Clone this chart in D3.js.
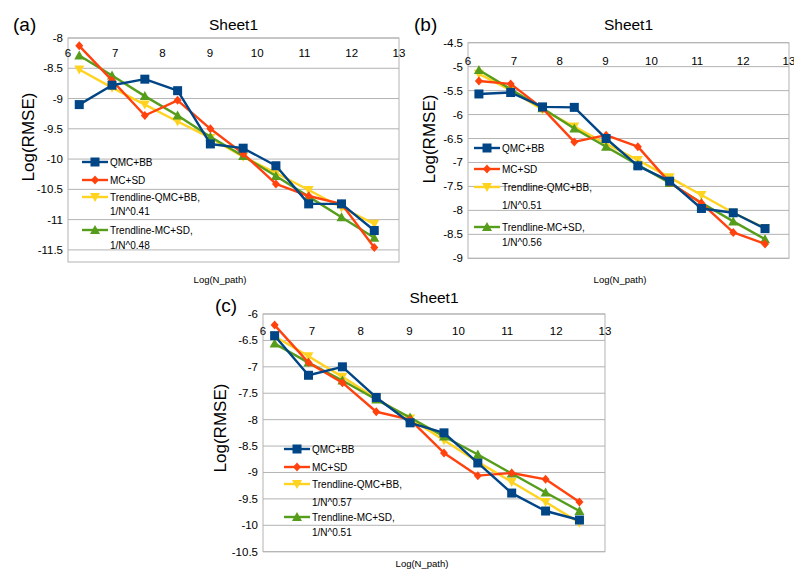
<!DOCTYPE html>
<html>
<head>
<meta charset="utf-8">
<script src="https://cdn.jsdelivr.net/npm/d3@7"></script>
<style>
  body { margin: 0; background: #fff; }
  svg { font-family: "Liberation Sans", Arial, sans-serif; }
</style>
</head>
<body>
<div id="chart"></div>
<script>
// x = ln(N_path), N_path = 512 ... 262144
const xLogN = [6.238, 6.931, 7.625, 8.318, 9.011, 9.704, 10.397, 11.090, 11.784, 12.477];
const xTicks = [6, 7, 8, 9, 10, 11, 12, 13];
const seriesNames = ["QMC+BB", "MC+SD", "Trendline-QMC+BB,", "Trendline-MC+SD,"];

// panel (a)
const aQMC = [-9.10, -8.78, -8.68, -8.87, -9.75, -9.82, -10.11, -10.74, -10.74, -11.18];
const aMC = [-8.13, -8.70, -9.28, -9.03, -9.50, -9.91, -10.41, -10.61, -10.74, -11.46];
const aTrendQMC = [-8.52, -8.82, -9.10, -9.38, -9.65, -9.96, -10.23, -10.51, -10.80, -11.07];
const aTrendMC = [-8.29, -8.62, -8.96, -9.28, -9.63, -9.95, -10.28, -10.62, -10.96, -11.30];
const aExp = ["1/N^0.41", "1/N^0.48"];
const aYTicks = [-8, -8.5, -9, -9.5, -10, -10.5, -11, -11.5];

// panel (b)
const bQMC = [-5.57, -5.54, -5.84, -5.85, -6.50, -7.07, -7.39, -7.96, -8.05, -8.38];
const bMC = [-5.30, -5.36, -5.87, -6.57, -6.43, -6.67, -7.42, -7.85, -8.46, -8.70];
const bTrendQMC = [-5.15, -5.49, -5.90, -6.25, -6.61, -6.95, -7.31, -7.68, -8.05, -8.37];
const bTrendMC = [-5.07, -5.47, -5.87, -6.29, -6.67, -7.05, -7.43, -7.84, -8.23, -8.60];
const bExp = ["1/N^0.51", "1/N^0.56"];
const bYTicks = [-4.5, -5, -5.5, -6, -6.5, -7, -7.5, -8, -8.5, -9];

// panel (c)
const cQMC = [-6.41, -7.16, -7.00, -7.58, -8.06, -8.25, -8.82, -9.39, -9.73, -9.90];
const cMC = [-6.21, -6.92, -7.30, -7.85, -8.00, -8.63, -9.06, -9.01, -9.13, -9.56];
const cTrendQMC = [-6.42, -6.80, -7.19, -7.60, -7.98, -8.39, -8.80, -9.18, -9.56, -9.95];
const cTrendMC = [-6.56, -6.92, -7.26, -7.62, -7.96, -8.32, -8.66, -9.02, -9.38, -9.73];
const cExp = ["1/N^0.57", "1/N^0.51"];
const cYTicks = [-6, -6.5, -7, -7.5, -8, -8.5, -9, -9.5, -10, -10.5];

const COLORS = ["#004586", "#ff420e", "#ffd320", "#579d1c"];
const GRID = "#b3b3b3";

const svg = d3.select("#chart").append("svg")
  .attr("width", 794)
  .attr("height", 570);

function marker(g, type, x, y, color) {
  if (type === 0) {
    g.append("rect").attr("x", x - 4.5).attr("y", y - 4.5)
      .attr("width", 9).attr("height", 9).attr("fill", color);
  } else if (type === 1) {
    g.append("path").attr("d", `M${x},${y - 4.5}L${x + 4},${y}L${x},${y + 4.5}L${x - 4},${y}Z`)
      .attr("fill", color);
  } else if (type === 2) {
    g.append("path").attr("d", `M${x - 5},${y - 4}L${x + 5},${y - 4}L${x},${y + 5}Z`)
      .attr("fill", color);
  } else {
    g.append("path").attr("d", `M${x - 5},${y + 4}L${x + 5},${y + 4}L${x},${y - 5}Z`)
      .attr("fill", color);
  }
}

function drawPanel(p) {
  const g = svg.append("g");
  const x = d3.scaleLinear().domain([6, 13]).range([p.left, p.right]);
  const y = d3.scaleLinear().domain(p.yDomain).range([p.top, p.bottom]);

  // grid
  g.selectAll("line.grid")
    .data(p.yTicks)
    .enter().append("line")
    .attr("x1", p.left).attr("x2", p.right)
    .attr("y1", d => y(d)).attr("y2", d => y(d))
    .attr("stroke", GRID).attr("stroke-width", 1);

  g.append("rect")
    .attr("x", p.left).attr("y", p.top)
    .attr("width", p.right - p.left).attr("height", p.bottom - p.top)
    .attr("fill", "none").attr("stroke", GRID);

  // y tick labels
  g.selectAll("text.ytick")
    .data(p.yTicks)
    .enter().append("text")
    .attr("x", p.left - 5)
    .attr("y", d => y(d) + 4)
    .attr("text-anchor", "end")
    .attr("font-size", "11.5px")
    .text(d => d);

  // x tick labels (axis crosses at top)
  g.selectAll("text.xtick")
    .data(xTicks)
    .enter().append("text")
    .attr("x", d => x(d))
    .attr("y", p.top + p.xLabelOff)
    .attr("text-anchor", "middle")
    .attr("font-size", "11.5px")
    .text(d => d);

  // titles
  g.append("text")
    .attr("x", (p.left + p.right) / 2).attr("y", p.titleY)
    .attr("text-anchor", "middle").attr("font-size", "15.5px")
    .text("Sheet1");
  g.append("text")
    .attr("x", p.tagX).attr("y", p.tagY)
    .attr("font-size", "19px")
    .text(p.tag);
  g.append("text")
    .attr("transform", `translate(${p.yLabelX},${p.yLabelY}) rotate(-90)`)
    .attr("text-anchor", "middle").attr("font-size", "17px")
    .text("Log(RMSE)");
  g.append("text")
    .attr("x", p.xLabelX).attr("y", p.xLabelY)
    .attr("text-anchor", "middle").attr("font-size", "9.5px")
    .text("Log(N_path)");

  // series: draw trendlines first, then data
  const line = d3.line().x((d, i) => x(xLogN[i])).y(d => y(d));
  const order = [2, 3, 1, 0];
  order.forEach(k => {
    const vals = p.series[k];
    g.append("path")
      .attr("d", line(vals))
      .attr("fill", "none")
      .attr("stroke", COLORS[k])
      .attr("stroke-width", 2.4)
      .attr("stroke-linejoin", "round");
    vals.forEach((v, i) => marker(g, k, x(xLogN[i]), y(v), COLORS[k]));
  });

  // legend
  const rows = [
    { k: 0, text: seriesNames[0] },
    { k: 1, text: seriesNames[1] },
    { k: 2, text: seriesNames[2] },
    { k: -1, text: p.exps[0] },
    { k: 3, text: seriesNames[3] },
    { k: -1, text: p.exps[1] }
  ];
  rows.forEach((r, i) => {
    const ry = p.legendRows[i];
    if (r.k >= 0) {
      g.append("line")
        .attr("x1", p.legendX).attr("x2", p.legendX + 26)
        .attr("y1", ry).attr("y2", ry)
        .attr("stroke", COLORS[r.k]).attr("stroke-width", 2.4);
      marker(g, r.k, p.legendX + 13, ry, COLORS[r.k]);
    }
    g.append("text")
      .attr("x", p.legendX + 28).attr("y", ry + 3.6)
      .attr("font-size", "10px")
      .text(r.text);
  });
}

drawPanel({
  tag: "(a)", tagX: 13, tagY: 31,
  left: 68, right: 399, top: 38, bottom: 262,
  yDomain: [-8, -11.7], yTicks: aYTicks, xLabelOff: 19,
  titleY: 30, yLabelX: 34, yLabelY: 137, xLabelX: 220, xLabelY: 283,
  series: [aQMC, aMC, aTrendQMC, aTrendMC], exps: aExp,
  legendX: 82, legendRows: [162, 180, 197, 211, 230, 245]
});

drawPanel({
  tag: "(b)", tagX: 414, tagY: 31,
  left: 468, right: 789, top: 42.7, bottom: 258.3,
  yDomain: [-4.5, -9], yTicks: bYTicks, xLabelOff: 22,
  titleY: 30, yLabelX: 435, yLabelY: 139, xLabelX: 620, xLabelY: 283,
  series: [bQMC, bMC, bTrendQMC, bTrendMC], exps: bExp,
  legendX: 474, legendRows: [148, 169, 187, 205, 227, 242]
});

drawPanel({
  tag: "(c)", tagX: 215, tagY: 312,
  left: 263, right: 605, top: 314, bottom: 551.7,
  yDomain: [-6, -10.5], yTicks: cYTicks, xLabelOff: 21,
  titleY: 303, yLabelX: 226, yLabelY: 428, xLabelX: 422, xLabelY: 567,
  series: [cQMC, cMC, cTrendQMC, cTrendMC], exps: cExp,
  legendX: 284, legendRows: [449, 467, 484, 502, 517, 532]
});
</script>
</body>
</html>
